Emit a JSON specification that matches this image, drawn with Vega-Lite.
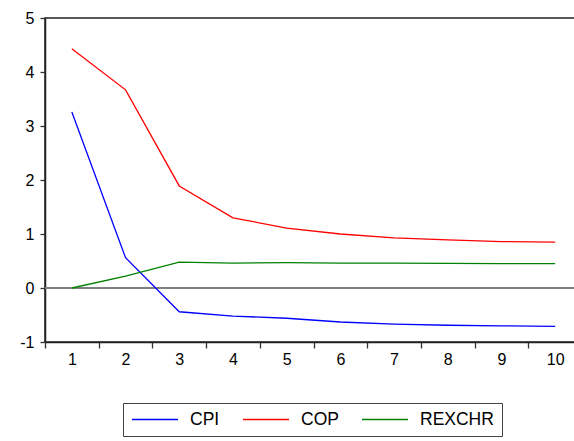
{
  "$schema": "https://vega.github.io/schema/vega-lite/v6.json",
  "autosize": "none",
  "width": 537,
  "height": 324,
  "padding": {"left": 45, "top": 18, "right": 0, "bottom": 99},
  "background": "white",
  "config": {
    "font": "Liberation Sans",
    "view": {"stroke": "#222222", "strokeWidth": 1.5}
  },
  "data": {
    "values": [
      {"period": 1, "series": "CPI", "value": 3.26},
      {"period": 2, "series": "CPI", "value": 0.56},
      {"period": 3, "series": "CPI", "value": -0.44},
      {"period": 4, "series": "CPI", "value": -0.52},
      {"period": 5, "series": "CPI", "value": -0.56},
      {"period": 6, "series": "CPI", "value": -0.63},
      {"period": 7, "series": "CPI", "value": -0.67},
      {"period": 8, "series": "CPI", "value": -0.69},
      {"period": 9, "series": "CPI", "value": -0.70},
      {"period": 10, "series": "CPI", "value": -0.71},
      {"period": 1, "series": "COP", "value": 4.43},
      {"period": 2, "series": "COP", "value": 3.67},
      {"period": 3, "series": "COP", "value": 1.89},
      {"period": 4, "series": "COP", "value": 1.30},
      {"period": 5, "series": "COP", "value": 1.11},
      {"period": 6, "series": "COP", "value": 1.00},
      {"period": 7, "series": "COP", "value": 0.93},
      {"period": 8, "series": "COP", "value": 0.89},
      {"period": 9, "series": "COP", "value": 0.86},
      {"period": 10, "series": "COP", "value": 0.85},
      {"period": 1, "series": "REXCHR", "value": 0.0},
      {"period": 2, "series": "REXCHR", "value": 0.22},
      {"period": 3, "series": "REXCHR", "value": 0.48},
      {"period": 4, "series": "REXCHR", "value": 0.46},
      {"period": 5, "series": "REXCHR", "value": 0.47},
      {"period": 6, "series": "REXCHR", "value": 0.46},
      {"period": 7, "series": "REXCHR", "value": 0.46},
      {"period": 8, "series": "REXCHR", "value": 0.455},
      {"period": 9, "series": "REXCHR", "value": 0.45},
      {"period": 10, "series": "REXCHR", "value": 0.45}
    ]
  },
  "layer": [
    {
      "mark": {"type": "rule", "color": "#808080", "strokeWidth": 1.5},
      "encoding": {"y": {"datum": 0, "type": "quantitative"}}
    },
    {
      "mark": {"type": "line", "strokeWidth": 1.3},
      "encoding": {
        "x": {
          "field": "period",
          "type": "ordinal",
          "scale": {"type": "band", "paddingInner": 0, "paddingOuter": 0},
          "axis": {
            "title": null,
            "labelAngle": 0,
            "tickBand": "extent",
            "labelFontSize": 16,
            "labelColor": "#000000",
            "labelPadding": 3,
            "tickSize": 6,
            "tickColor": "#333333",
            "domainColor": "#222222",
            "domainWidth": 1.5,
            "tickWidth": 1.3
          }
        },
        "y": {
          "field": "value",
          "type": "quantitative",
          "scale": {"domain": [-1, 5], "nice": false, "zero": false},
          "axis": {
            "title": null,
            "values": [-1, 0, 1, 2, 3, 4, 5],
            "labelExpr": "'' + datum.value",
            "grid": false,
            "labelFontSize": 16,
            "labelColor": "#000000",
            "labelPadding": 6,
            "tickSize": 5,
            "tickColor": "#333333",
            "domainColor": "#222222",
            "domainWidth": 1.5,
            "tickWidth": 1.3
          }
        },
        "color": {
          "field": "series",
          "type": "nominal",
          "sort": ["CPI", "COP", "REXCHR"],
          "scale": {"domain": ["CPI", "COP", "REXCHR"], "range": ["#0000ff", "#ff0000", "#008000"]},
          "legend": {
            "title": null,
            "orient": "none",
            "legendX": 78,
            "legendY": 385,
            "direction": "horizontal",
            "symbolType": "stroke",
            "symbolSize": 2116,
            "symbolStrokeWidth": 1.3,
            "clipHeight": 17,
            "labelFontSize": 17.5,
            "labelColor": "#000000",
            "labelOffset": 11,
            "columnPadding": 22,
            "strokeColor": "#444444",
            "padding": 8
          }
        }
      }
    }
  ]
}
